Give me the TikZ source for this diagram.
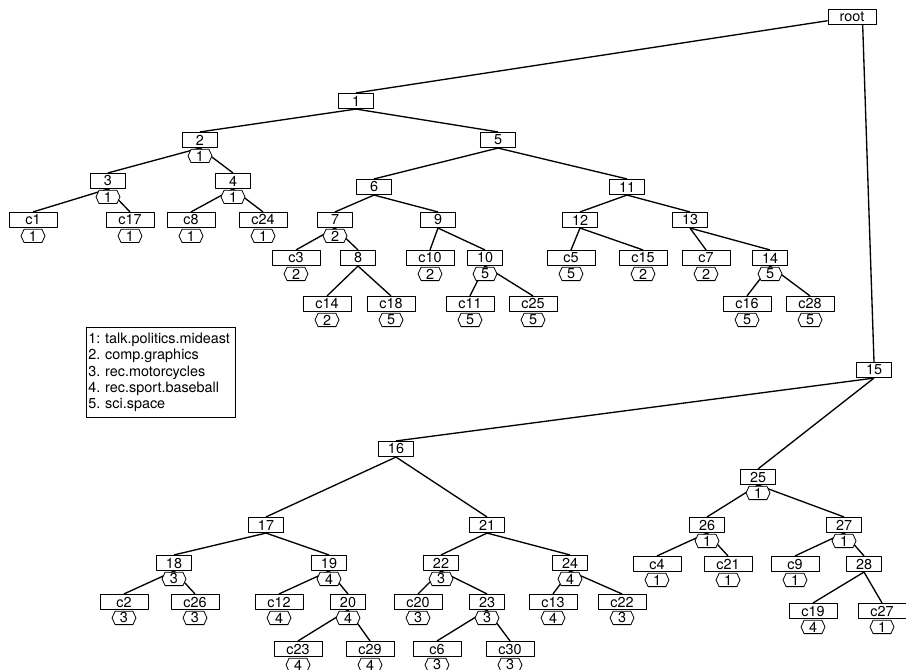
\documentclass[tikz,border=0pt]{standalone}
\usepackage{fontspec}
\setmainfont{TeX Gyre Heros}
\usetikzlibrary{shapes.symbols,backgrounds}
\frenchspacing
\begin{document}
\begin{tikzpicture}[x=0.75pt, y=-0.75pt, line join=round, line cap=round,
    font=\fontsize{10.8}{12.2}\selectfont,
    inode/.style={draw, line width=0.6pt, fill=white, inner sep=0pt, minimum width=26pt, minimum height=11.5pt},
    leaf/.style={inode, minimum width=36pt},
    badge/.style={draw, line width=0.6pt, fill=white, inner sep=0pt, shape=signal, signal to=west and east, signal pointer angle=130, minimum width=18pt, minimum height=10pt, anchor=north, yshift=-0.6pt},
    link/.style={line width=1pt}]
  \useasboundingbox (0,0) rectangle (906,670);
  % upper part
  \node[inode, minimum width=36pt] (root) at (852,17) {root};
  \node[inode] (n1) at (356,101) {1};
  \node[inode] (n2) at (200,140) {2};
  \node[inode] (n5) at (498,140) {5};
  \node[inode] (n3) at (108,181) {3};
  \node[inode] (n4) at (233,181) {4};
  \node[leaf] (c1) at (33,220) {c1};
  \node[leaf] (c17) at (130,220) {c17};
  \node[leaf] (c8) at (191,220) {c8};
  \node[leaf] (c24) at (263,220) {c24};
  \node[inode] (n6) at (374,187) {6};
  \node[inode] (n11) at (627,187) {11};
  \node[inode] (n7) at (335,220) {7};
  \node[inode] (n9) at (438,220) {9};
  \node[leaf] (c3) at (296,258) {c3};
  \node[inode] (n8) at (358,258) {8};
  \node[leaf] (c10) at (430,258) {c10};
  \node[inode] (n10) at (485,258) {10};
  \node[leaf] (c14) at (327,304) {c14};
  \node[leaf] (c18) at (391,304) {c18};
  \node[leaf] (c11) at (470,304) {c11};
  \node[leaf] (c25) at (533,304) {c25};
  \node[inode] (n12) at (580,220) {12};
  \node[inode] (n13) at (690,220) {13};
  \node[leaf] (c5) at (571,258) {c5};
  \node[leaf] (c15) at (643,258) {c15};
  \node[leaf] (c7) at (706,258) {c7};
  \node[inode] (n14) at (770,258) {14};
  \node[leaf] (c16) at (747,304) {c16};
  \node[leaf] (c28) at (810,304) {c28};
  % lower part
  \node[inode] (n15) at (874,370) {15};
  \node[inode] (n16) at (396,449) {16};
  \node[inode] (n25) at (758,477) {25};
  \node[inode] (n17) at (266,525) {17};
  \node[inode] (n21) at (487,525) {21};
  \node[inode] (n26) at (707,525) {26};
  \node[inode] (n27) at (844,525) {27};
  \node[inode] (n18) at (174,563) {18};
  \node[inode] (n19) at (329,563) {19};
  \node[inode] (n22) at (441,563) {22};
  \node[inode] (n24) at (570,563) {24};
  \node[leaf] (c4) at (657,564) {c4};
  \node[leaf] (c21) at (728,564) {c21};
  \node[leaf] (c9) at (795,564) {c9};
  \node[inode] (n28) at (864,564) {28};
  \node[leaf] (c2) at (124,602) {c2};
  \node[leaf] (c26) at (195,602) {c26};
  \node[leaf] (c12) at (279,602) {c12};
  \node[inode] (n20) at (348,602) {20};
  \node[leaf] (c20) at (418,602) {c20};
  \node[inode] (n23) at (487,602) {23};
  \node[leaf] (c13) at (553,602) {c13};
  \node[leaf] (c22) at (622,602) {c22};
  \node[leaf] (c19) at (813,611) {c19};
  \node[leaf] (c27) at (882,611) {c27};
  \node[leaf] (c23) at (298,649) {c23};
  \node[leaf] (c29) at (370,649) {c29};
  \node[leaf] (c6) at (437,649) {c6};
  \node[leaf] (c30) at (510,649) {c30};
  % class badges
  \foreach \n/\k in {n2/1, n3/1, n4/1, c1/1, c17/1, c8/1, c24/1, n7/2, c3/2, c10/2, n10/5,
      c14/2, c18/5, c11/5, c25/5, c5/5, c15/2, c7/2, n14/5, c16/5, c28/5,
      n25/1, n26/1, n27/1, c4/1, c21/1, c9/1, c19/4, c27/1, n18/3, n19/4, c2/3, c26/3,
      c12/4, n20/4, c23/4, c29/4, n22/3, n23/3, n24/4, c20/3, c13/4, c22/3, c6/3, c30/3}
    \node[badge] (b\n) at (\n.south) {\k};
  % legend
  \node[draw, line width=0.6pt, anchor=north west, align=left, text width=109pt, inner xsep=1.5pt, minimum height=67.5pt] (key) at (86,327)
    {1: talk.politics.mideast\\2. comp.graphics\\3. rec.motorcycles\\4. rec.sport.baseball\\5. sci.space};
  % connectors
  \begin{scope}[on background layer]
    \draw[link] (root) -- (n1.north);
    \draw[link] ([xshift=8pt]root.south) -- (n15.north);
    \foreach \a/\b in {n1/n2, n1/n5, n2/n3, n2/n4, n3/c1, n3/c17, n4/c8, n4/c24,
        n5/n6, n5/n11, n6/n7, n6/n9, n7/c3, n7/n8, n8/c14, n8/c18, n9/c10, n9/n10,
        n10/c11, n10/c25, n11/n12, n11/n13, n12/c5, n12/c15, n13/c7, n13/n14, n14/c16, n14/c28,
        n15/n16, n15/n25, n16/n17, n16/n21, n17/n18, n17/n19, n18/c2, n18/c26, n19/c12, n19/n20,
        n20/c23, n20/c29, n21/n22, n21/n24, n22/c20, n22/n23, n23/c6, n23/c30, n24/c13, n24/c22,
        n25/n26, n25/n27, n26/c4, n26/c21, n27/c9, n27/n28, n28/c19, n28/c27}
      \draw[link] (\a.south) -- (\b.north);
  \end{scope}
\end{tikzpicture}
\end{document}
